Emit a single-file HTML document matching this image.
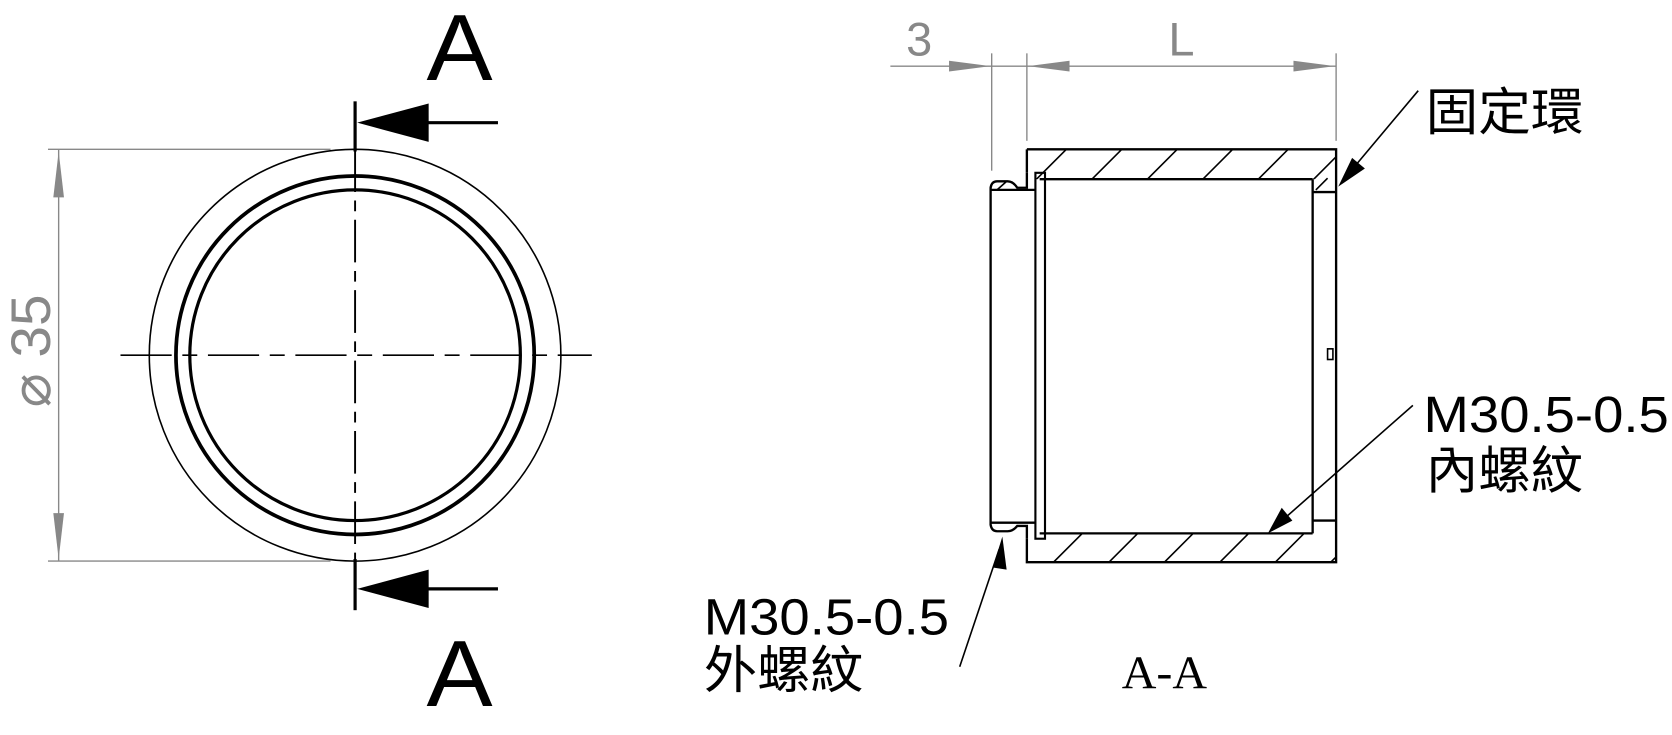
<!DOCTYPE html>
<html><head><meta charset="utf-8"><style>
html,body{margin:0;padding:0;background:#fff;}
svg{display:block;}
text{font-family:"Liberation Sans","Noto Sans CJK TC",sans-serif;}
</style></head><body>
<svg width="1672" height="735" viewBox="0 0 1568 689" preserveAspectRatio="none" xmlns="http://www.w3.org/2000/svg">
<defs>
<clipPath id="topw"><rect x="963" y="140" width="290" height="28"/></clipPath>
<clipPath id="botw"><rect x="963" y="500" width="290" height="27"/></clipPath>
</defs>
<!-- Left view -->
<g fill="none" stroke="#000">
<circle cx="333" cy="333" r="193" stroke-width="1.5"/>
<circle cx="333" cy="333" r="168" stroke-width="3.5"/>
<circle cx="333" cy="333" r="155" stroke-width="3"/>
<line x1="113" y1="333" x2="555" y2="333" stroke-width="1.5" stroke-dasharray="48,10,14,10"/>
<line x1="333" y1="140" x2="333" y2="527" stroke-width="1.8" stroke-dasharray="40,8,10,8"/>
<line x1="333" y1="95" x2="333" y2="142" stroke-width="3"/>
<line x1="333" y1="524" x2="333" y2="572" stroke-width="3"/>
<line x1="400" y1="115" x2="467" y2="115" stroke-width="3"/>
<line x1="400" y1="552" x2="467" y2="552" stroke-width="3"/>
</g>
<polygon points="335,115 402,97 402,133" fill="#000"/>
<polygon points="335,552 402,534 402,570" fill="#000"/>
<text x="400" y="75" font-size="88" textLength="62" lengthAdjust="spacingAndGlyphs">A</text>
<text x="400" y="662" font-size="88" textLength="62" lengthAdjust="spacingAndGlyphs">A</text>
<!-- Ø35 dim -->
<g stroke="#888" stroke-width="1.3" fill="none">
<line x1="45" y1="140" x2="310" y2="140"/>
<line x1="45" y1="526" x2="310" y2="526"/>
<line x1="55" y1="140" x2="55" y2="526"/>
</g>
<polygon points="55,142 50,185 60,185" fill="#888"/>
<polygon points="55,524 50,481 60,481" fill="#888"/>
<text transform="translate(47,382) rotate(-90)" font-size="52" fill="#888" textLength="106" lengthAdjust="spacingAndGlyphs">⌀ 35</text>
<!-- Section view -->
<g fill="none" stroke="#000" stroke-width="2.2">
<path d="M963,140 H1253 V527 H963 V505"/>
<path d="M963,140 V162"/>
<line x1="975" y1="168" x2="1231" y2="168"/>
<line x1="975" y1="500" x2="1231" y2="500"/>
<path d="M963,162 V176 H954 Q950,170 945,170 H935 Q930,170 929,176 V492 Q930,498 935,498 H945 Q950,498 954,493 H963 V505"/>
<line x1="929" y1="178" x2="971" y2="178"/>
<line x1="929" y1="490" x2="971" y2="490"/>
<rect x="971" y="162" width="9" height="343" stroke-width="2"/>
<line x1="1231" y1="168" x2="1231" y2="500"/>
<line x1="1231" y1="180" x2="1253" y2="180"/>
<line x1="1231" y1="488" x2="1253" y2="488"/>
<rect x="1245" y="327" width="5" height="10" stroke-width="1.5"/>
</g>
<g stroke="#000" stroke-width="1.5" clip-path="url(#topw)">
<line x1="960" y1="180" x2="1010" y2="130"/><line x1="1012" y1="180" x2="1062" y2="130"/>
<line x1="1064" y1="180" x2="1114" y2="130"/><line x1="1116" y1="180" x2="1166" y2="130"/>
<line x1="1168" y1="180" x2="1218" y2="130"/><line x1="1220" y1="180" x2="1270" y2="130"/>
</g>
<g stroke="#000" stroke-width="1.5" clip-path="url(#botw)">
<line x1="975" y1="540" x2="1025" y2="490"/><line x1="1027" y1="540" x2="1077" y2="490"/>
<line x1="1079" y1="540" x2="1129" y2="490"/><line x1="1131" y1="540" x2="1181" y2="490"/>
<line x1="1183" y1="540" x2="1233" y2="490"/><line x1="1235" y1="540" x2="1285" y2="490"/>
</g>
<line x1="935" y1="178" x2="944" y2="170" stroke="#000" stroke-width="1.5"/>
<line x1="1234" y1="178" x2="1245" y2="167" stroke="#000" stroke-width="1.5"/>
<!-- top dims -->
<g stroke="#888" stroke-width="1.3">
<line x1="930" y1="50" x2="930" y2="160"/>
<line x1="963" y1="50" x2="963" y2="132"/>
<line x1="1253" y1="50" x2="1253" y2="132"/>
<line x1="835" y1="62" x2="1253" y2="62"/>
</g>
<polygon points="929,62 890,57 890,67" fill="#888"/>
<polygon points="964,62 1003,57 1003,67" fill="#888"/>
<polygon points="1252,62 1213,57 1213,67" fill="#888"/>
<text x="862" y="52" font-size="44" fill="#888" text-anchor="middle">3</text>
<text x="1108" y="52" font-size="44" fill="#888" text-anchor="middle">L</text>
<!-- leaders -->
<g stroke="#000" stroke-width="1.5">
<line x1="1330" y1="85" x2="1262" y2="166"/>
<line x1="1325" y1="380" x2="1200" y2="490"/>
<line x1="900" y1="625" x2="937" y2="515"/>
</g>
<polygon points="1255,175 1268,148 1280,158" fill="#000"/>
<polygon points="1189,500 1202,476 1212,488" fill="#000"/>
<polygon points="940,503 931,532 944,534" fill="#000"/>
<text x="1337" y="122" font-size="48" textLength="148" lengthAdjust="spacingAndGlyphs">固定環</text>
<text x="1335" y="405" font-size="48" textLength="230" lengthAdjust="spacingAndGlyphs">M30.5-0.5</text>
<text x="1337" y="458" font-size="48" textLength="148" lengthAdjust="spacingAndGlyphs">內螺紋</text>
<text x="660" y="595" font-size="48" textLength="230" lengthAdjust="spacingAndGlyphs">M30.5-0.5</text>
<text x="660" y="645" font-size="48" textLength="150" lengthAdjust="spacingAndGlyphs">外螺紋</text>
<text x="1052" y="645" font-size="44" textLength="80" lengthAdjust="spacingAndGlyphs" style="font-family:'Liberation Serif',serif">A-A</text>
</svg>
</body></html>
